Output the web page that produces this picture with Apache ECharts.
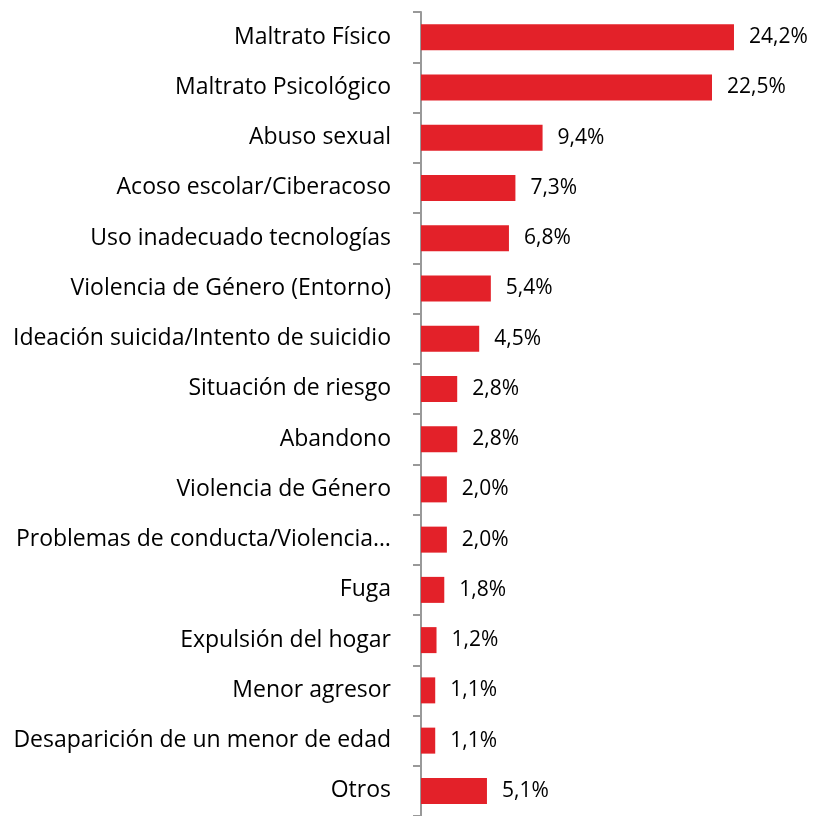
<!DOCTYPE html>
<html>
<head>
<meta charset="utf-8">
<script src="https://cdn.jsdelivr.net/npm/echarts@6/dist/echarts.min.js"></script>
<style>
  html, body { margin: 0; padding: 0; background: #fff; }
  #chart { width: 821px; height: 816px; }
</style>
</head>
<body>
<div id="chart"></div>
<script>
// categories top to bottom
const categories = [
  'Maltrato Físico',
  'Maltrato Psicológico',
  'Abuso sexual',
  'Acoso escolar/Ciberacoso',
  'Uso inadecuado tecnologías',
  'Violencia de Género (Entorno)',
  'Ideación suicida/Intento de suicidio',
  'Situación de riesgo',
  'Abandono',
  'Violencia de Género',
  'Problemas de conducta/Violencia…',
  'Fuga',
  'Expulsión del hogar',
  'Menor agresor',
  'Desaparición de un menor de edad',
  'Otros'
]
const values = [24.2, 22.5, 9.4, 7.3, 6.8, 5.4, 4.5, 2.8, 2.8, 2.0, 2.0, 1.8, 1.2, 1.1, 1.1, 5.1]

const chart = echarts.init(document.getElementById('chart'), null, { renderer: 'canvas' })

chart.setOption({
  animation: false,
  grid: { left: 421, right: 12, top: 12, bottom: -3, containLabel: false },
  xAxis: {
    type: 'value',
    min: 0,
    max: 30,
    show: false
  },
  yAxis: {
    type: 'category',
    inverse: true,
    data: categories,
    axisLine: { show: true, lineStyle: { color: '#999', width: 2 } },
    axisTick: { show: true, length: 8, lineStyle: { color: '#999', width: 2 } },
    axisLabel: { margin: 30, color: '#000', fontSize: 23, fontFamily: '"Open Sans", sans-serif' }
  },
  series: [{
    type: 'bar',
    data: values,
    barWidth: 26,
    itemStyle: { color: '#e32129' },
    label: {
      show: true,
      position: 'right',
      distance: 15,
      color: '#000',
      fontSize: 21,
      fontFamily: '"Open Sans", sans-serif',
      formatter: p => p.value.toFixed(1).replace('.', ',') + '%'
    }
  }]
})
</script>
</body>
</html>
